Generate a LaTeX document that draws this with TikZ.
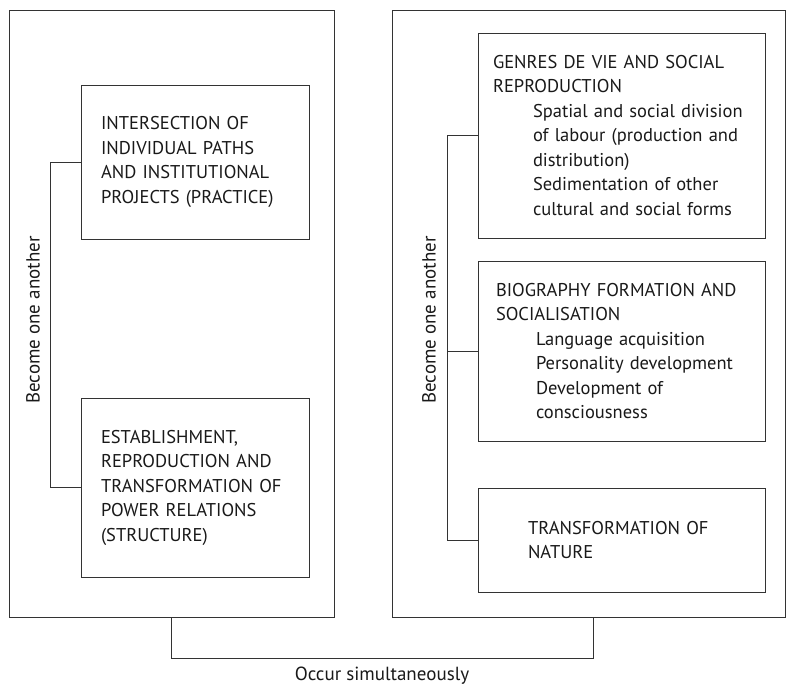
\documentclass[tikz,border=0pt]{standalone}
\usepackage{fontspec}
\setmainfont{PT Sans}
\usetikzlibrary{positioning}

\newcommand{\indented}[1]{\hspace*{40pt}#1}

\tikzset{
  frame/.style={draw=black!80, line width=0.9pt},
  box/.style={draw=black!80, line width=0.9pt, text=black!90, align=left,
    font=\fontsize{18.5}{24.5}\selectfont, inner ysep=0pt},
  link/.style={draw=black!80, line width=0.9pt},
  tag/.style={text=black!90, font=\fontsize{19}{21}\selectfont, inner sep=0pt}
}

\begin{document}
\begin{tikzpicture}[x=1pt,y=-1pt]
\useasboundingbox (0,0) rectangle (787,686);

% outer frames
\node[frame, minimum width=325, minimum height=607] (leftframe) at (171.5,313.5) {};
\node[frame, minimum width=393, minimum height=607] (rightframe) at (588.5,313.5) {};

% left frame
\node[box, minimum width=228, minimum height=154, text width=188, inner xsep=20] (practice) at (195,162)
  {INTERSECTION OF\\INDIVIDUAL PATHS\\AND INSTITUTIONAL\\PROJECTS (PRACTICE)};
\node[box, minimum width=228, minimum height=179, text width=188, inner xsep=20] (structure) at (195,487.5)
  {ESTABLISHMENT,\\REPRODUCTION AND\\TRANSFORMATION OF\\POWER RELATIONS\\(STRUCTURE)};

% right frame
\node[box, minimum width=287, minimum height=205, text width=257, inner xsep=15] (genres) at (621.5,135.5)
  {GENRES DE VIE AND SOCIAL\\REPRODUCTION\\\indented{Spatial and social division}\\
   \indented{of labour (production and}\\\indented{distribution)}\\
   \indented{Sedimentation of other}\\\indented{cultural and social forms}};
\node[box, minimum width=287, minimum height=180, text width=251, inner xsep=18] (biography) at (621.5,351)
  {BIOGRAPHY FORMATION AND\\SOCIALISATION\\\indented{Language acquisition}\\
   \indented{Personality development}\\\indented{Development of}\\\indented{consciousness}};
\node[box, minimum width=287, minimum height=104, text width=187, inner xsep=50] (nature) at (621.5,540)
  {TRANSFORMATION OF\\NATURE};

% brackets
\coordinate (lbar) at (50,0);
\draw[link] (practice.west) -- (practice.west -| lbar) -- (structure.west -| lbar) -- (structure.west);
\node[tag, rotate=90] (lefttag) at (33,320) {Become one another};

\coordinate (rbar) at (447,0);
\draw[link] (genres.west) -- (genres.west -| rbar) -- (nature.west -| rbar) -- (nature.west);
\draw[link] (biography.west) -- (biography.west -| rbar);
\node[tag, rotate=90] (righttag) at (429,320) {Become one another};

\coordinate (occur) at (382,658);
\draw[link] (leftframe.south) |- (occur) -| ([xshift=4.5]rightframe.south);
\node[tag] (occurtag) at (382,676) {Occur simultaneously};
\end{tikzpicture}
\end{document}
